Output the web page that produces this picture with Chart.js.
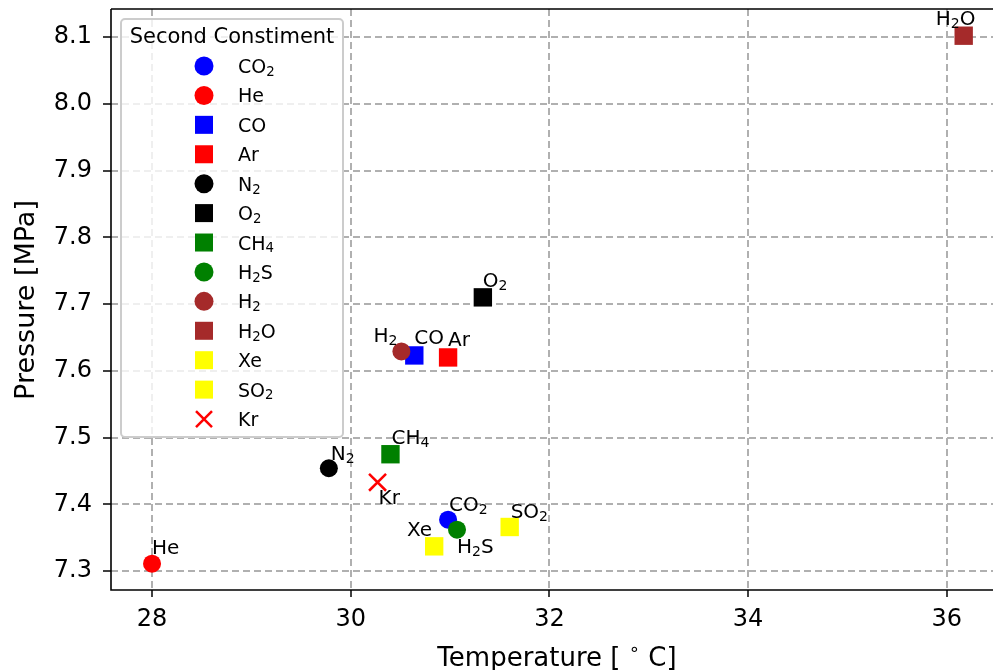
<!DOCTYPE html>
<html>
<head>
<meta charset="utf-8">
<title>Critical point of CO2 mixtures</title>
<script src="https://cdn.jsdelivr.net/npm/chart.js@4/dist/chart.umd.min.js"></script>
<style>
  html, body { margin: 0; padding: 0; background: #ffffff; }
  canvas { display: block; }
</style>
</head>
<body>
<canvas id="chart" width="993" height="670"></canvas>
<script>
// second constituent of each mixture ("_x" means subscript x)
const gases = ['CO_2', 'He', 'CO', 'Ar', 'N_2', 'O_2', 'CH_4', 'H_2S', 'H_2', 'H_2O', 'Xe', 'SO_2', 'Kr'];

// critical temperature [C] and pressure [MPa]
const temps = [30.98, 28.00, 30.64, 30.98, 29.78, 31.33, 30.40, 31.07, 30.51, 36.17, 30.84, 31.60, 30.27];
const pressures = [7.377, 7.311, 7.623, 7.620, 7.454, 7.710, 7.475, 7.362, 7.629, 8.102, 7.337, 7.366, 7.433];

// marker shape and colour per gas
const shapes = ['circle', 'circle', 'rect', 'rect', 'circle', 'rect', 'rect', 'circle', 'circle', 'rect', 'rect', 'rect', 'crossRot'];
const colors = ['#0000ff', '#ff0000', '#0000ff', '#ff0000', '#000000', '#000000', '#008000', '#008000', '#a52a2a', '#a52a2a', '#ffff00', '#ffff00', '#ff0000'];

// axis ticks
const xTicks = [28, 30, 32, 34, 36];
const yTicks = [7.3, 7.4, 7.5, 7.6, 7.7, 7.8, 7.9, 8.0, 8.1];

// where each point's name sits: [dx, dy, align] from the marker centre
const labelOffsets = {
    'CO_2': [1, -9, 'left'],
    'He': [0, -10, 'left'],
    'CO': [0, -11, 'left'],
    'Ar': [0, -11, 'left'],
    'N_2': [2, -8, 'left'],
    'O_2': [0, -10, 'left'],
    'CH_4': [1, -10, 'left'],
    'H_2S': [0, 23, 'left'],
    'H_2': [-4, -9, 'right'],
    'H_2O': [-28, -11, 'left'],
    'Xe': [-2, -10, 'right'],
    'SO_2': [1, -9, 'left'],
    'Kr': [1, 22, 'left']
};

const FONT = "'DejaVu Sans', sans-serif";
const GRID = '#b0b0b0';

// split "H_2O" into pieces, marking subscripts and superscripts
function parseRich(str) {
    const parts = [];
    let i = 0;
    while (i < str.length) {
        const c = str[i];
        if ((c === '_' || c === '^') && i + 1 < str.length) {
            parts.push({ t: str[i + 1], mode: c === '_' ? 'sub' : 'sup' });
            i += 2;
        } else {
            if (parts.length && parts[parts.length - 1].mode === 'normal') {
                parts[parts.length - 1].t += c;
            } else {
                parts.push({ t: c, mode: 'normal' });
            }
            i++;
        }
    }
    return parts;
}

// draws text with small lowered/raised characters, baseline at y
function drawRich(ctx, str, x, y, size, align) {
    const parts = parseRich(str);
    let total = 0;
    parts.forEach(function(p) {
        p.size = p.mode === 'normal' ? size : size * 0.7;
        ctx.font = p.size + 'px ' + FONT;
        p.w = ctx.measureText(p.t).width;
        total += p.w;
    });
    let cx = x;
    if (align === 'right') cx = x - total;
    if (align === 'center') cx = x - total / 2;
    ctx.textAlign = 'left';
    ctx.textBaseline = 'alphabetic';
    parts.forEach(function(p) {
        ctx.font = p.size + 'px ' + FONT;
        let dy = 0;
        if (p.mode === 'sub') dy = size * 0.15;
        if (p.mode === 'sup') dy = -size * 0.42;
        ctx.fillText(p.t, cx, y + dy);
        cx += p.w;
    });
}

// marker glyph for the legend, same look as the plotted points
function drawMarker(ctx, shape, color, x, y) {
    ctx.save();
    ctx.fillStyle = color;
    ctx.strokeStyle = color;
    if (shape === 'circle') {
        ctx.beginPath();
        ctx.arc(x, y, 9.5, 0, Math.PI * 2);
        ctx.fill();
    } else if (shape === 'rect') {
        ctx.fillRect(x - 9, y - 9, 18, 18);
    } else {
        ctx.lineWidth = 2.5;
        ctx.beginPath();
        ctx.moveTo(x - 8, y - 8);
        ctx.lineTo(x + 8, y + 8);
        ctx.moveTo(x + 8, y - 8);
        ctx.lineTo(x - 8, y + 8);
        ctx.stroke();
    }
    ctx.restore();
}

const decorations = {
    id: 'decorations',
    afterDatasetsDraw(chart) {
        const ctx = chart.ctx;
        ctx.save();
        ctx.fillStyle = '#000000';
        chart.data.datasets.forEach(function(ds, i) {
            const el = chart.getDatasetMeta(i).data[0];
            const off = labelOffsets[ds.label] || [0, -10, 'left'];
            drawRich(ctx, ds.label, el.x + off[0], el.y + off[1], 20, off[2]);
        });
        ctx.restore();
    },
    afterDraw(chart) {
        const ctx = chart.ctx;
        const a = chart.chartArea;
        ctx.save();

        // spines
        ctx.strokeStyle = '#000000';
        ctx.lineWidth = 1.6;
        ctx.beginPath();
        ctx.moveTo(a.left, a.top);
        ctx.lineTo(a.right + 2, a.top);
        ctx.moveTo(a.left, a.top);
        ctx.lineTo(a.left, a.bottom);
        ctx.lineTo(a.right + 2, a.bottom);
        ctx.stroke();

        // axis titles
        ctx.fillStyle = '#000000';
        drawRich(ctx, 'Temperature [ ^\u2218 C]', 557, 666, 26, 'center');
        ctx.save();
        ctx.translate(34, 300);
        ctx.rotate(-Math.PI / 2);
        drawRich(ctx, 'Pressure [MPa]', 0, 0, 27, 'center');
        ctx.restore();

        // legend box
        const bx = 121, by = 19, bw = 222, bh = 418, r = 4;
        ctx.beginPath();
        ctx.moveTo(bx + r, by);
        ctx.arcTo(bx + bw, by, bx + bw, by + bh, r);
        ctx.arcTo(bx + bw, by + bh, bx, by + bh, r);
        ctx.arcTo(bx, by + bh, bx, by, r);
        ctx.arcTo(bx, by, bx + bw, by, r);
        ctx.closePath();
        ctx.fillStyle = 'rgba(255,255,255,0.8)';
        ctx.fill();
        ctx.strokeStyle = '#cccccc';
        ctx.lineWidth = 2;
        ctx.stroke();

        ctx.fillStyle = '#000000';
        drawRich(ctx, 'Second Constiment', bx + bw / 2, 43, 21, 'center');
        gases.forEach(function(g, i) {
            const rowY = 66 + i * 29.42;
            drawMarker(ctx, shapes[i], colors[i], 204, rowY);
            ctx.fillStyle = '#000000';
            drawRich(ctx, g, 238, rowY + 7, 19, 'left');
        });

        ctx.restore();
    }
};

const datasets = gases.map(function(g, i) {
    let radius = 9;
    if (shapes[i] === 'rect') radius = 13;
    if (shapes[i] === 'crossRot') radius = 12;
    return {
        label: g,
        data: [{ x: temps[i], y: pressures[i] }],
        pointStyle: shapes[i],
        pointRadius: radius,
        backgroundColor: colors[i],
        borderColor: colors[i],
        borderWidth: shapes[i] === 'crossRot' ? 2.5 : 0,
        order: -i
    };
});

new Chart(document.getElementById('chart'), {
    type: 'scatter',
    data: { datasets: datasets },
    plugins: [decorations],
    options: {
        responsive: false,
        animation: false,
        devicePixelRatio: 1,
        events: [],
        layout: { autoPadding: false, padding: { top: 9, right: 0, left: 0, bottom: 0 } },
        plugins: {
            legend: { display: false },
            tooltip: { enabled: false }
        },
        scales: {
            x: {
                type: 'linear',
                min: 27.587,
                max: 36.465,
                afterBuildTicks: function(scale) {
                    scale.ticks = xTicks.map(function(v) { return { value: v }; });
                },
                afterFit: function(scale) {
                    scale.height = 80;
                    scale.paddingLeft = 0;
                    scale.paddingRight = 0;
                },
                grid: {
                    color: GRID,
                    lineWidth: 2,
                    tickColor: '#000000',
                    tickWidth: 1.5,
                    tickLength: 7
                },
                border: { display: false, dash: [7, 4] },
                ticks: {
                    color: '#000000',
                    padding: 8,
                    maxRotation: 0,
                    font: { family: FONT, size: 24 },
                    callback: function(v) { return String(v); }
                }
            },
            y: {
                type: 'linear',
                min: 7.2716,
                max: 8.142,
                afterBuildTicks: function(scale) {
                    scale.ticks = yTicks.map(function(v) { return { value: v }; });
                },
                afterFit: function(scale) {
                    scale.width = 111;
                    scale.paddingTop = 0;
                    scale.paddingBottom = 0;
                },
                grid: {
                    color: GRID,
                    lineWidth: 2,
                    tickColor: '#000000',
                    tickWidth: 1.5,
                    tickLength: 8
                },
                border: { display: false, dash: [7, 4] },
                ticks: {
                    color: '#000000',
                    padding: 11,
                    font: { family: FONT, size: 24 },
                    callback: function(v) { return v.toFixed(1); }
                }
            }
        }
    }
});
</script>
</body>
</html>
